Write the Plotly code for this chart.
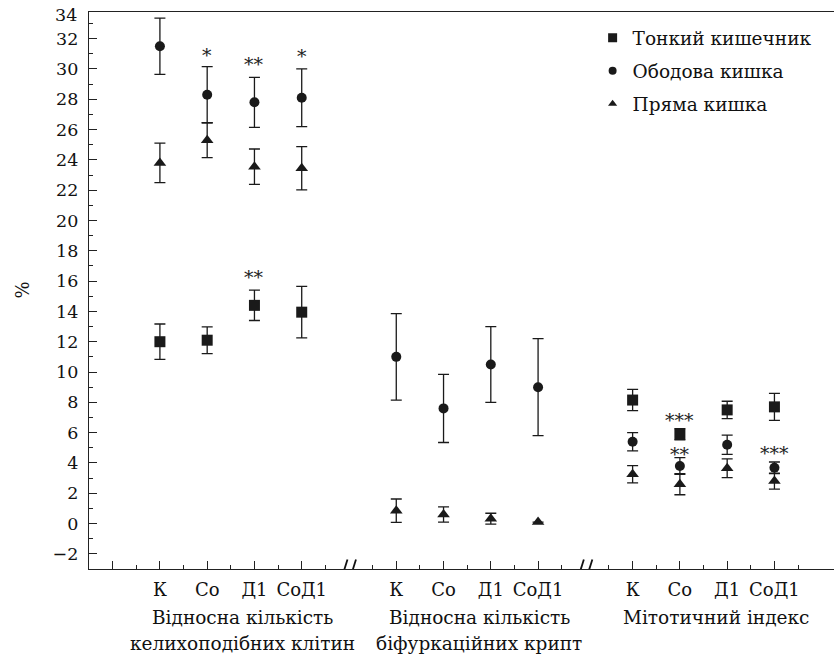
import plotly.graph_objects as go

# ---------------- data ----------------
categories = ["К", "Со", "Д1", "СоД1"]
group_x = [[1, 2, 3, 4], [6, 7, 8, 9], [11, 12, 13, 14]]
group_labels = [["Відносна кількість", "келихоподібних клітин"],
                ["Відносна кількість", "біфуркаційних крипт"],
                ["Мітотичний індекс"]]
series_names = ["Тонкий кишечник", "Ободова кишка", "Пряма кишка"]

small_int = [12.0, 12.1, 14.4, 13.95, None, None, None, None, 8.15, 5.9, 7.5, 7.7]
small_int_err = [1.17, 0.88, 1.0, 1.7, None, None, None, None, 0.7, 0.37, 0.57, 0.89]

colon = [31.5, 28.3, 27.8, 28.1, 11.0, 7.6, 10.5, 9.0, 5.4, 3.8, 5.2, 3.68]
colon_err = [1.85, 1.85, 1.65, 1.9, 2.85, 2.25, 2.5, 3.2, 0.6, 0.55, 0.64, 0.38]

rectum = [23.8, 25.3, 23.55, 23.45, 0.85, 0.6, 0.32, 0.1, 3.25, 2.6, 3.65, 2.8]
rectum_err = [1.3, 1.15, 1.17, 1.43, 0.77, 0.5, 0.36, 0.0, 0.57, 0.7, 0.62, 0.53]

# significance marks: (x position, y value, text)
star_x = [2, 3, 4, 3, 12, 12, 14]
star_y = [31.15, 30.5, 31.05, 16.5, 7.06, 4.8, 4.86]
star_text = ["*", "**", "*", "**", "***", "**", "***"]

y_ticks = list(range(-2, 33, 2))
break_x = [5, 10]

# ---------------- figure ----------------
xs = [x for g in group_x for x in g]
ink = "#1a1a1a"
font_family = "DejaVu Serif, Liberation Serif, serif"

fig = go.Figure()

symbols = ["square", "circle", "triangle-up"]
sizes = [11, 10, 11]
legend_sizes = [9, 8, 8]
vals = [small_int, colon, rectum]
errs = [small_int_err, colon_err, rectum_err]

for name, sym, sz, v, e in zip(series_names, symbols, sizes, vals, errs):
    fig.add_trace(go.Scatter(
        x=xs, y=v, mode="markers", showlegend=False,
        marker=dict(symbol=sym, size=sz, color=ink),
        error_y=dict(type="data", array=e, visible=True,
                     color=ink, thickness=1.3, width=5.5),
        cliponaxis=False,
    ))

for i, (name, sym, lsz) in enumerate(zip(series_names, symbols, legend_sizes)):
    fig.add_trace(go.Scatter(
        x=[None], y=[None], mode="markers", name=name,
        legendgroup=f"g{i}",
        marker=dict(symbol=sym, size=lsz, color=ink),
    ))

major_vals = [0] + xs
major_text = [""] + categories * 3
minor_vals = [k + 0.5 for k in range(0, 15)]

fig.update_layout(
    width=834, height=655,
    margin=dict(l=89, r=0, t=12, b=86),
    paper_bgcolor="white", plot_bgcolor="white",
    font=dict(family=font_family, size=18, color="#111"),
    showlegend=True,
    legend=dict(x=0.676, y=0.987, xanchor="left", yanchor="top",
                bgcolor="rgba(0,0,0,0)", tracegroupgap=6,
                font=dict(size=18.5, family=font_family)),
    xaxis=dict(range=[-0.5, 15.26], showgrid=False, zeroline=False,
               showline=True, linecolor="#222", linewidth=1.3, mirror=True,
               ticks="inside", ticklen=8, tickwidth=1.3, tickcolor="#222",
               tickmode="array", tickvals=major_vals, ticktext=major_text,
               tickfont=dict(size=18), ticklabelstandoff=4,
               minor=dict(tickmode="array", tickvals=minor_vals, ticks="inside",
                          ticklen=4, tickwidth=1.2, tickcolor="#222")),
    yaxis=dict(range=[-3, 33.76], showgrid=False, zeroline=False,
               showline=True, linecolor="#222", linewidth=1.3,
               ticks="inside", ticklen=8, tickwidth=1.3, tickcolor="#222",
               tickmode="array", tickvals=y_ticks,
               tickfont=dict(size=17.5), ticklabelstandoff=6,
               minor=dict(tickmode="array", tickvals=list(range(-3, 34)),
                          ticks="inside", ticklen=4, tickwidth=1.2, tickcolor="#222")),
)

# y-axis title
fig.add_annotation(x=0, xref="paper", y=0.5, yref="paper", text="%",
                   showarrow=False, textangle=-90, xanchor="center", yanchor="middle",
                   xshift=-67, font=dict(size=18))

# label for the top value (axis ends just below it)
fig.add_annotation(x=0, xref="paper", y=1, yref="paper", text="34",
                   showarrow=False, xanchor="right", yanchor="middle",
                   xshift=-10, yshift=-3, font=dict(size=17.5))

for gx, lines in zip(group_x, group_labels):
    for j, line in enumerate(lines):
        fig.add_annotation(x=sum(gx) / len(gx), xref="x", y=0, yref="paper",
                           text=line, showarrow=False, xanchor="center",
                           yanchor="middle", xshift=12, yshift=-48 - 26 * j,
                           font=dict(size=18.5))

for sx, sy, st in zip(star_x, star_y, star_text):
    fig.add_annotation(x=sx, y=sy, text=st, showarrow=False,
                       xanchor="center", yanchor="middle", yshift=-3,
                       font=dict(size=19, color="#222"))

# axis-break marks
for bx in break_x:
    for dx in (-7.5, 1.0):
        fig.add_shape(type="line", xref="x", yref="y",
                      xsizemode="pixel", ysizemode="pixel",
                      xanchor=bx, yanchor=-3,
                      x0=dx, x1=dx + 6, y0=-9.5, y1=9.5,
                      line=dict(color="#111", width=1.8))

fig.write_html("out.html", config={"displayModeBar": False},
               post_script="document.body.style.margin='0';document.body.style.overflow='hidden';")
